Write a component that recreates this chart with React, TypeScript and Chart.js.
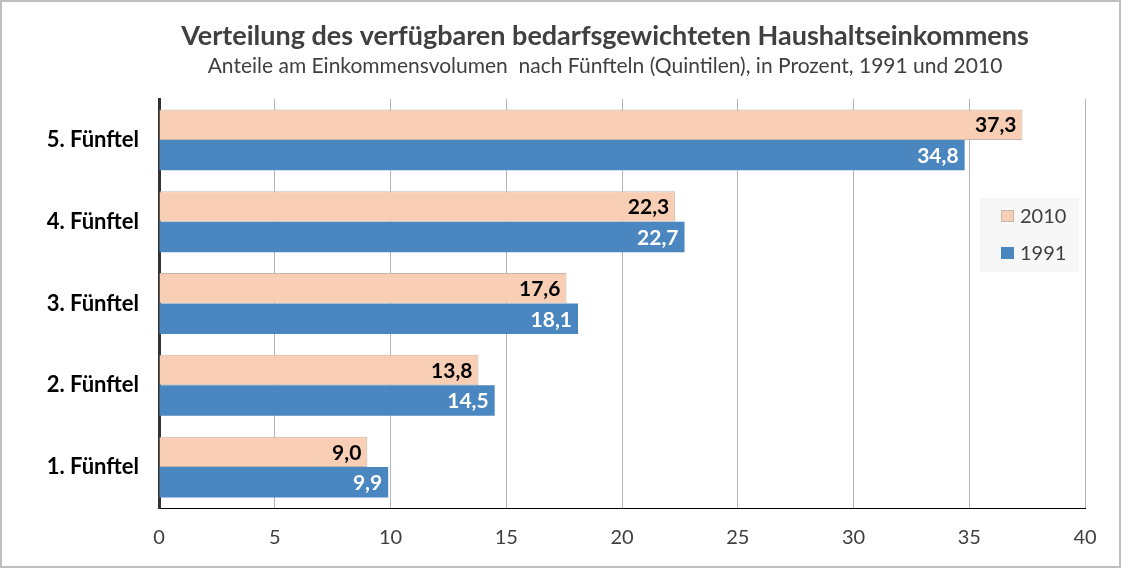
import React, { useEffect, useRef } from "react";
import { Chart, registerables } from "chart.js";

Chart.register(...registerables);

const categories = ["5. Fünftel", "4. Fünftel", "3. Fünftel", "2. Fünftel", "1. Fünftel"];
const series2010 = [37.3, 22.3, 17.6, 13.8, 9.0];
const series1991 = [34.8, 22.7, 18.1, 14.5, 9.9];
const seriesNames = ["2010", "1991"];
const axisMin = 0;
const axisMax = 40;
const axisStep = 5;
const titleText = "Verteilung des verfügbaren bedarfsgewichteten Haushaltseinkommens";
const subtitleText = "Anteile am Einkommensvolumen  nach Fünfteln (Quintilen), in Prozent, 1991 und 2010";

const FONT = "Lato, 'Liberation Sans', sans-serif";
const PEACH = "#f8cfb5";
const PEACH_BORDER = "#c7b5aa";
const BLUE = "#4a86c0";

const fmt = (v: number) => v.toFixed(1).replace(".", ",");

const labelPlugin = {
  id: "barLabels",
  afterDatasetsDraw(chart: any) {
    const ctx = chart.ctx;
    ctx.save();
    ctx.font = `bold 21px ${FONT}`;
    ctx.textAlign = "right";
    ctx.textBaseline = "middle";
    chart.data.datasets.forEach((ds: any, di: number) => {
      const meta = chart.getDatasetMeta(di);
      ctx.fillStyle = di === 0 ? "#000000" : "#ffffff";
      meta.data.forEach((el: any, i: number) => {
        ctx.fillText(fmt(ds.data[i]), el.x - 6, el.y + 1);
      });
    });
    ctx.restore();
  },
};

const titlePlugin = {
  id: "titles",
  afterDraw(chart: any) {
    const ctx = chart.ctx;
    ctx.save();
    ctx.textAlign = "center";
    ctx.textBaseline = "alphabetic";
    ctx.fillStyle = "#404040";
    ctx.font = `bold 27px ${FONT}`;
    ctx.fillText(titleText, 603, 43);
    ctx.font = `21px ${FONT}`;
    ctx.fillText(subtitleText, 603, 71);
    ctx.restore();
  },
};

const legendPlugin = {
  id: "boxLegend",
  afterDraw(chart: any) {
    const ctx = chart.ctx;
    const ox = -2;
    const oy = -2;
    ctx.save();
    ctx.fillStyle = "#f7f7f7";
    ctx.fillRect(980 + ox, 198 + oy, 99, 74);
    ctx.font = `20px ${FONT}`;
    ctx.textAlign = "left";
    ctx.textBaseline = "middle";
    const rows = [216, 253];
    chart.data.datasets.forEach((ds: any, di: number) => {
      const cy = rows[di] + oy;
      ctx.fillStyle = ds.backgroundColor;
      ctx.fillRect(1001 + ox, cy - 6, 13, 12);
      if (ds.borderWidth) {
        ctx.strokeStyle = ds.borderColor;
        ctx.lineWidth = 1;
        ctx.strokeRect(1001.5 + ox, cy - 5.5, 12, 11);
      }
      ctx.fillStyle = "#404040";
      ctx.fillText(ds.label, 1020 + ox, cy + 1);
    });
    ctx.restore();
  },
};

export default function App() {
  const ref = useRef<HTMLCanvasElement | null>(null);
  useEffect(() => {
    if (!ref.current) return;
    const chart = new Chart(ref.current, {
      type: "bar",
      data: {
        labels: categories,
        datasets: [
          {
            label: seriesNames[0],
            data: series2010,
            backgroundColor: PEACH,
            borderColor: PEACH_BORDER,
            borderWidth: 1,
            categoryPercentage: 0.745,
            barPercentage: 1.0,
          },
          {
            label: seriesNames[1],
            data: series1991,
            backgroundColor: BLUE,
            borderWidth: 0,
            categoryPercentage: 0.745,
            barPercentage: 1.0,
          },
        ],
      },
      options: {
        indexAxis: "y",
        animation: false,
        responsive: true,
        maintainAspectRatio: false,
        layout: { padding: { top: 97, right: 34, bottom: 0, left: 0 } },
        plugins: {
          legend: { display: false },
          title: { display: false },
          tooltip: { enabled: false },
        },
        scales: {
          x: {
            min: axisMin,
            max: axisMax,
            ticks: {
              stepSize: axisStep,
              padding: 18,
              color: "#404040",
              font: { family: FONT, size: 20 },
            },
            grid: { color: "#b5b5b5", lineWidth: 1, drawTicks: false },
            border: { color: "#000000", width: 1 },
            afterFit: (s: any) => {
              s.height = 58;
            },
          },
          y: {
            ticks: {
              padding: 20,
              color: "#000000",
              font: { family: FONT, size: 22, weight: "bold" },
            },
            grid: { display: false, drawTicks: false },
            border: { color: "#333333", width: 3 },
            afterFit: (s: any) => {
              s.width = 157;
            },
          },
        },
      },
      plugins: [labelPlugin, titlePlugin, legendPlugin],
    });
    return () => chart.destroy();
  }, []);

  return (
    <div
      style={{
        position: "fixed",
        left: 0,
        top: 0,
        width: 1121,
        height: 568,
        border: "2px solid #bfbfbf",
        boxSizing: "border-box",
        background: "#ffffff",
      }}
    >
      <div style={{ position: "relative", width: 1117, height: 564 }}>
        <canvas ref={ref} />
      </div>
    </div>
  );
}
